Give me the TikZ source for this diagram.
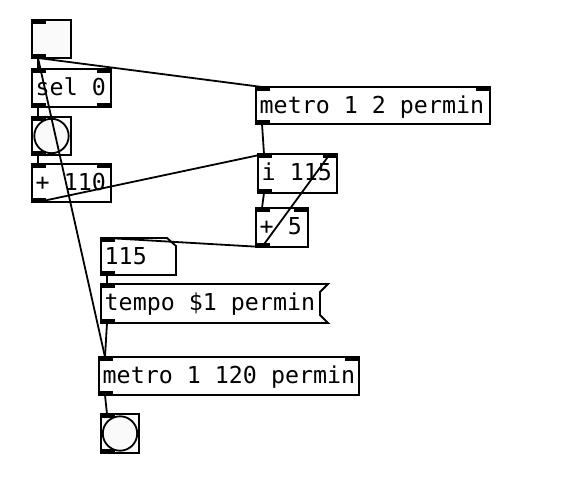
\documentclass[tikz,border=0pt]{standalone}
\usepackage{fontspec}
\newfontfamily\pdmono{DejaVu Sans Mono}
\begin{document}
\begin{tikzpicture}[x=1bp,y=-1bp,
  box/.style={draw=black, line width=1.9bp, fill=white, outer sep=0pt, inner sep=0pt, anchor=north west, rectangle},
  gui/.style={box, fill=black!2},
  io/.style={fill=black},
  wire/.style={line width=1.8bp},
  lbl/.style={anchor=base west, inner sep=0pt, font=\pdmono\fontsize{23.3bp}{28bp}\selectfont}]
\useasboundingbox[fill=white] (0,0) rectangle (576,498);

% ---------- objects ----------
% toggle
\node[gui, minimum width=39bp, minimum height=38bp] (T) at (32,20) {};
\fill[io] (T.north west) rectangle ++(14,4);
\fill[io] (T.south west) rectangle ++(14,-4);
% sel 0
\node[box, minimum width=79bp, minimum height=38bp] (S) at (32,69) {};
\node[lbl] (Stxt) at (35.5,95.3) {sel 0};
\fill[io] (S.north west) rectangle ++(14,4);
\fill[io] (S.north east) rectangle ++(-14,4);
\fill[io] (S.south west) rectangle ++(14,-4);
\fill[io] (S.south east) rectangle ++(-14,-4);
% bang 1
\node[gui, minimum width=39bp, minimum height=38bp] (B1) at (32,117) {};
\draw[line width=1.8bp] (B1.center) circle[radius=17.2];
\fill[io] (B1.north west) rectangle ++(14,4);
\fill[io] (B1.south west) rectangle ++(14,-4);
% + 110
\node[box, minimum width=79bp, minimum height=38bp] (A) at (32,164) {};
\node[lbl] (Atxt) at (35.5,190.3) {+ 110};
\fill[io] (A.north west) rectangle ++(14,4);
\fill[io] (A.north east) rectangle ++(-14,4);
\fill[io] (A.south west) rectangle ++(14,-4);
% metro 1 2 permin
\node[box, minimum width=234bp, minimum height=37bp] (M1) at (256,87) {};
\node[lbl] (M1txt) at (259.5,113.3) {metro 1 2 permin};
\fill[io] (M1.north west) rectangle ++(14,4);
\fill[io] (M1.north east) rectangle ++(-14,4);
\fill[io] (M1.south west) rectangle ++(14,-4);
% i 115
\node[box, minimum width=79bp, minimum height=39bp] (I) at (258,154) {};
\node[lbl] (Itxt) at (261.5,180.3) {i 115};
\fill[io] (I.north west) rectangle ++(14,4);
\fill[io] (I.north east) rectangle ++(-14,4);
\fill[io] (I.south west) rectangle ++(14,-4);
% + 5
\node[box, minimum width=52bp, minimum height=39bp] (P) at (256,208) {};
\node[lbl] (Ptxt) at (259.5,234.3) {+ 5};
\fill[io] (P.north west) rectangle ++(14,4);
\fill[io] (P.north east) rectangle ++(-14,4);
\fill[io] (P.south west) rectangle ++(14,-4);
% number box 115
\draw[line width=1.9bp, fill=white] (101,238) -- (167,238) -- (176,246) -- (176,275) -- (101,275) -- cycle;
\node[lbl] (N) at (104.5,264.3) {115};
\fill[io] (101,238) rectangle ++(14,4);
\fill[io] (101,275) rectangle ++(14,-4);
% message tempo $1 permin
\draw[line width=1.9bp, fill=white] (101,284) -- (328,284) -- (320,292) -- (320,315) -- (328,323) -- (101,323) -- cycle;
\node[lbl] (G) at (104.5,310.3) {tempo \$1 permin};
\fill[io] (101,284) rectangle ++(14,4);
\fill[io] (101,323) rectangle ++(14,-4);
% metro 1 120 permin
\node[box, minimum width=260bp, minimum height=38bp] (M2) at (99,357) {};
\node[lbl] (M2txt) at (102.5,383.3) {metro 1 120 permin};
\fill[io] (M2.north west) rectangle ++(14,4);
\fill[io] (M2.north east) rectangle ++(-14,4);
\fill[io] (M2.south west) rectangle ++(14,-4);
% bang 2
\node[gui, minimum width=38bp, minimum height=39bp] (B2) at (101,414) {};
\draw[line width=1.8bp] (B2.center) circle[radius=17.2];
\fill[io] (B2.north west) rectangle ++(14,4);
\fill[io] (B2.south west) rectangle ++(14,-4);

% ---------- ports ----------
\coordinate (T-o) at ([xshift=6bp]T.south west);
\coordinate (S-i) at ([xshift=6bp]S.north west);
\coordinate (S-o) at ([xshift=6bp]S.south west);
\coordinate (B1-i) at ([xshift=6bp]B1.north west);
\coordinate (B1-o) at ([xshift=6bp]B1.south west);
\coordinate (A-i) at ([xshift=6bp]A.north west);
\coordinate (A-o) at ([xshift=6bp]A.south west);
\coordinate (M1-i) at ([xshift=6bp]M1.north west);
\coordinate (M1-o) at ([xshift=6bp]M1.south west);
\coordinate (I-i) at ([xshift=6bp]I.north west);
\coordinate (I-r) at ([xshift=-7bp]I.north east);
\coordinate (I-o) at ([xshift=6bp]I.south west);
\coordinate (P-i) at ([xshift=6bp]P.north west);
\coordinate (P-o) at ([xshift=6bp]P.south west);
\coordinate (N-i) at (107,238);
\coordinate (N-o) at (107,275);
\coordinate (G-i) at (107,284);
\coordinate (G-o) at (107,323);
\coordinate (M2-i) at ([xshift=6bp]M2.north west);
\coordinate (M2-o) at ([xshift=6bp]M2.south west);
\coordinate (B2-i) at ([xshift=6bp]B2.north west);

% ---------- connections ----------
\draw[wire] (T-o) -- (S-i);
\draw[wire] (T-o) -- (M1-i);
\draw[wire] (T-o) -- (M2-i);
\draw[wire] (S-o) -- (B1-i);
\draw[wire] (B1-o) -- (A-i);
\draw[wire] (A-o) -- (I-i);
\draw[wire] (M1-o) -- (I-i);
\draw[wire] (I-o) -- (P-i);
\draw[wire] (P-o) -- (I-r);
\draw[wire] (P-o) -- (N-i);
\draw[wire] (N-o) -- (G-i);
\draw[wire] (G-o) -- (M2-i);
\draw[wire] (M2-o) -- (B2-i);
\end{tikzpicture}
\end{document}
